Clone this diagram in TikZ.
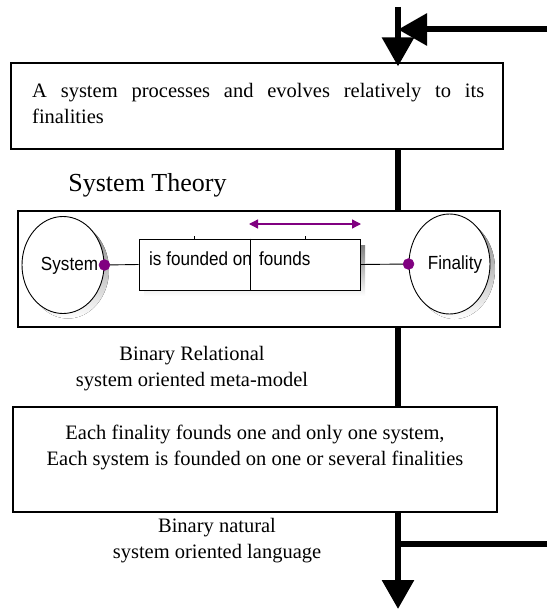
\documentclass[tikz,border=0pt]{standalone}
\usepackage{fontspec}
\setmainfont{Liberation Serif}
\newfontfamily\narrowsf[FakeStretch=0.9]{Liberation Sans}
\usetikzlibrary{arrows.meta,shapes.geometric}
\definecolor{relpurple}{RGB}{128,0,128}
\definecolor{shade}{RGB}{192,192,192}
\hyphenpenalty=10000
\exhyphenpenalty=10000
\tolerance=9999

\tikzset{
  box/.style={draw, line width=1.2pt, fill=white, inner sep=0pt},
  flow/.style={line width=6pt},
  bigtip/.style={-{Triangle[length=29pt,width=31pt]}},
  entity/.style={ellipse, draw, line width=0.9pt, fill=white, inner sep=0pt,
    minimum width=82pt, minimum height=97pt},
  role/.style={draw, line width=0.9pt, fill=white, inner sep=0pt, minimum height=51pt},
  link/.style={line width=0.9pt},
  rmtext/.style={inner sep=0pt, font=\fontsize{20.5}{26}\selectfont},
  sftext/.style={inner sep=0pt, font=\narrowsf\fontsize{19}{22}\selectfont},
}

\begin{document}
\begin{tikzpicture}[x=1pt,y=-1pt]
\useasboundingbox (0,0) rectangle (547,610);

\def\xs{398};
\def\yrel{265};

\coordinate (in) at (\xs, 7);
\coordinate (fb) at (547, 29.5);
\coordinate (out) at (\xs, 609);
\coordinate (br) at (547, 544);

% statement box
\node[box, minimum width=492pt, minimum height=86pt] (stmt) at (257,106) {};
\node[rmtext, anchor=north west, text width=452pt, align=justify] (stmttxt) at (32,83)
  {A system processes and evolves relatively to its finalities};

\node[inner sep=0pt, anchor=base, font=\fontsize{26}{30}\selectfont] (title) at (147.5,191) {System Theory};

% meta-model
\node[box, minimum width=482pt, minimum height=116pt] (theory) at (259,269) {};

\fill[shade] (68,270) ellipse (41 and 48.5);
\fill[shade] (454.5,269) ellipse (40.5 and 50);
\fill[shade] (144,245) rectangle (365,296);

\node[entity] (sys) at (63,\yrel) {};
\node[entity, minimum width=81pt, minimum height=100pt] (fin) at (449.5,264) {};
\node[sftext] (systxt) at (69.5,266) {System};
\node[sftext] (fintxt) at (455,265) {Finality};

\node[role, minimum width=111pt] (rel1) at (194.5,264.5) {};
\node[role, minimum width=110pt] (rel2) at (305,264.5) {};
\node[sftext, anchor=base west] (rel1txt) at (149,265) {is founded on};
\node[sftext, anchor=base west] (rel2txt) at (259,265) {founds};
\draw[link] (rel1.north east) -- (rel1.south east);
\draw[link] (rel1.north) -- ++(0,-3);
\draw[link] (rel2.north) -- ++(0,-3);

\draw[link] (sys.east) -- (rel1.west);
\draw[link] (rel2.east) -- (fin.west);
\filldraw[relpurple] (sys.east) circle (5.5);
\filldraw[relpurple] (fin.west) circle (5.5);

\coordinate (ra) at (249,224);
\coordinate (rb) at (361,224);
\draw[relpurple, line width=1.3pt, {Triangle[length=9pt,width=9pt]}-{Triangle[length=9pt,width=9pt]}] (ra) -- (rb);

\node[rmtext, align=center] (metatxt) at (192,368.5) {Binary Relational\\system oriented meta-model};

% language box
\node[box, minimum width=484pt, minimum height=105pt] (lang) at (255,459.5) {};
\node[rmtext, align=center] (langtxt) at (255,447.5)
  {Each finality founds one and only one system,\\Each system is founded on one or several finalities};

\node[rmtext, align=center] (nattxt) at (217,541) {Binary natural\\system oriented language};

% flow
\draw[flow] (stmt.south -| in) -- (theory.north -| in);
\draw[flow] (theory.south -| in) -- (lang.north -| in);
\draw[flow, bigtip, shorten >=-4pt] (in) -- (stmt.north -| in);
\draw[flow, bigtip] (lang.south -| in) -- (out);
\draw[flow, bigtip] (fb) -- (in |- fb);
\draw[flow] (br) -- (out |- br);

\end{tikzpicture}
\end{document}
